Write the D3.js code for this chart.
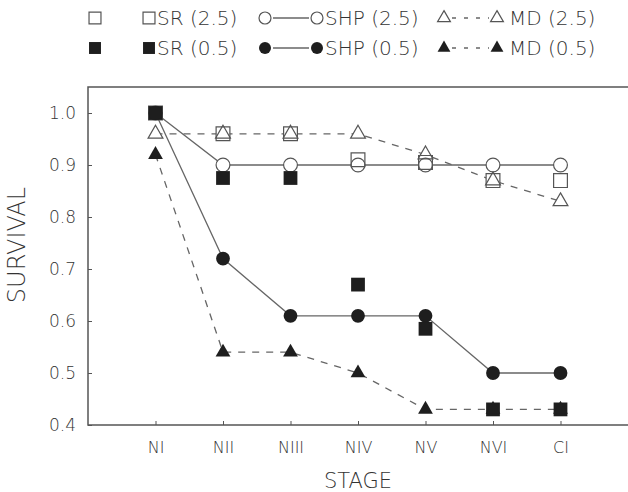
<!DOCTYPE html>
<html>
<head>
<meta charset="utf-8">
<script src="https://cdn.jsdelivr.net/npm/d3@7"></script>
<style>
  body { margin: 0; background: #fff; }
  text { font-family: "DejaVu Sans", sans-serif; font-weight: 200; fill: #333; }
</style>
</head>
<body>
<svg></svg>
<script>
var stages = ["NI", "NII", "NIII", "NIV", "NV", "NVI", "CI"];
var yTicks = [0.4, 0.5, 0.6, 0.7, 0.8, 0.9, 1.0];

// survival per stage
var sr25  = [1.0, 0.96, 0.96, 0.91, 0.905, 0.87, 0.87];
var shp25 = [1.0, 0.90, 0.90, 0.90, 0.90, 0.90, 0.90];
var md25  = [0.96, 0.96, 0.96, 0.96, 0.92, 0.87, 0.83];
var sr05  = [1.0, 0.875, 0.875, 0.67, 0.585, 0.43, 0.43];
var shp05 = [1.0, 0.72, 0.61, 0.61, 0.61, 0.50, 0.50];
var md05  = [0.92, 0.54, 0.54, 0.50, 0.43, 0.43, 0.43];

var series = [
    { name: "SR (2.5)",  values: sr25,  shape: d3.symbolSquare,   filled: false, line: null },
    { name: "SHP (2.5)", values: shp25, shape: d3.symbolCircle,   filled: false, line: "solid" },
    { name: "MD (2.5)",  values: md25,  shape: d3.symbolTriangle, filled: false, line: "dash" },
    { name: "SR (0.5)",  values: sr05,  shape: d3.symbolSquare,   filled: true,  line: null },
    { name: "SHP (0.5)", values: shp05, shape: d3.symbolCircle,   filled: true,  line: "solid" },
    { name: "MD (0.5)",  values: md05,  shape: d3.symbolTriangle, filled: true,  line: "dash" }
];

var width = 628, height = 492;
var pLeft = 88, pRight = 628, pTop = 87, pBottom = 425;

var svg = d3.select("svg")
    .attr("width", width)
    .attr("height", height);

var x = d3.scalePoint().domain(stages).range([pLeft, pRight]).padding(1);
var y = d3.scaleLinear().domain([0.4, 1.05]).range([pBottom, pTop]);

function symSize(shape) {
    if (shape === d3.symbolSquare) return 190;
    if (shape === d3.symbolCircle) return 150;
    return 95;
}
function sym(shape, k) { return d3.symbol().type(shape).size(symSize(shape) * (k || 1))(); }

// axes
var yAxis = svg.append("g")
    .attr("transform", "translate(" + pLeft + ",0)")
    .call(d3.axisLeft(y).tickValues(yTicks).tickSize(-4).tickPadding(12).tickFormat(d3.format(".1f")));
yAxis.select(".domain").remove();
yAxis.selectAll("text").style("font-size", "17px");
yAxis.selectAll("line").attr("stroke", "#555");

var xAxis = svg.append("g")
    .attr("transform", "translate(0," + pBottom + ")")
    .call(d3.axisBottom(x).tickSize(-4).tickPadding(17));
xAxis.select(".domain").remove();
xAxis.selectAll("text").style("font-size", "16px");
xAxis.selectAll("line").attr("stroke", "#555");

svg.append("path")
    .attr("d", "M" + pRight + "," + pTop + "H" + pLeft + "V" + pBottom + "H" + pRight)
    .attr("fill", "none")
    .attr("stroke", "#555")
    .attr("stroke-width", 1.5);

svg.append("text")
    .attr("transform", "translate(25,245) rotate(-90)")
    .attr("text-anchor", "middle")
    .style("font-size", "24px")
    .text("SURVIVAL");

svg.append("text")
    .attr("x", (pLeft + pRight) / 2)
    .attr("y", 488)
    .attr("text-anchor", "middle")
    .style("font-size", "21px")
    .text("STAGE");

// lines
var line = d3.line()
    .x(function(d, i) { return x(stages[i]); })
    .y(function(d) { return y(d); });

series.filter(function(s) { return s.line; }).forEach(function(s) {
    svg.append("path")
        .datum(s.values)
        .attr("d", line)
        .attr("fill", "none")
        .attr("stroke", "#666")
        .attr("stroke-width", 1.3)
        .attr("stroke-dasharray", s.line === "dash" ? "7,7" : null);
});

// white backs of open markers, then outlines, then filled markers
var open = series.filter(function(s) { return !s.filled; });
var full = series.filter(function(s) { return s.filled; });

open.forEach(function(s) {
    svg.append("g").selectAll("path")
        .data(s.values)
        .enter().append("path")
        .attr("transform", function(d, i) { return "translate(" + x(stages[i]) + "," + y(d) + ")"; })
        .attr("d", sym(s.shape))
        .attr("fill", "#fff");
});
open.forEach(function(s) {
    svg.append("g").selectAll("path")
        .data(s.values)
        .enter().append("path")
        .attr("transform", function(d, i) { return "translate(" + x(stages[i]) + "," + y(d) + ")"; })
        .attr("d", sym(s.shape))
        .attr("fill", "none")
        .attr("stroke", "#555")
        .attr("stroke-width", 1.2);
});
full.forEach(function(s) {
    svg.append("g").selectAll("path")
        .data(s.values)
        .enter().append("path")
        .attr("transform", function(d, i) { return "translate(" + x(stages[i]) + "," + y(d) + ")"; })
        .attr("d", sym(s.shape))
        .attr("fill", "#1e1e1e");
});

// legend
var legendCols = [
    { m1: 95,  m2: 149, tx: 157 },
    { m1: 265, m2: 317, tx: 325 },
    { m1: 444, m2: 497, tx: 509 }
];
var legendRows = [18, 48];

series.forEach(function(s, k) {
    var c = legendCols[k % 3], ry = legendRows[Math.floor(k / 3)];
    var g = svg.append("g");
    if (s.line) {
        g.append("line")
            .attr("x1", c.m1 + 8).attr("x2", c.m2 - 8)
            .attr("y1", ry).attr("y2", ry)
            .attr("stroke", "#666")
            .attr("stroke-width", 1.3)
            .attr("stroke-dasharray", s.line === "dash" ? "4,8" : null);
    }
    [c.m1, c.m2].forEach(function(mx) {
        g.append("path")
            .attr("transform", "translate(" + mx + "," + ry + ")")
            .attr("d", sym(s.shape, 0.75))
            .attr("fill", s.filled ? "#1e1e1e" : "#fff")
            .attr("stroke", s.filled ? null : "#555")
            .attr("stroke-width", 1.2);
    });
    g.append("text")
        .attr("x", c.tx)
        .attr("y", ry + 7)
        .style("font-size", "20px")
        .text(s.name);
});
</script>
</body>
</html>
